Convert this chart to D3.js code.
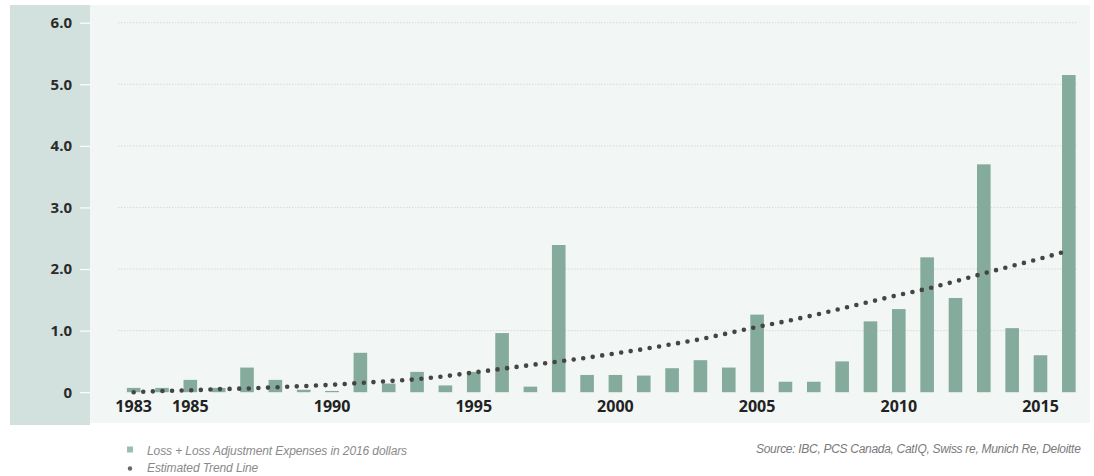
<!DOCTYPE html>
<html>
<head>
<meta charset="utf-8">
<script src="https://cdn.jsdelivr.net/npm/d3@7"></script>
<style>
  html, body { margin: 0; padding: 0; background: #ffffff; overflow: hidden; }
  svg { display: block; }
</style>
</head>
<body>
<svg id="chart" width="1094" height="476"></svg>
<script>
// ---- data ----
const years = [1983,1984,1985,1986,1987,1988,1989,1990,1991,1992,1993,1994,1995,1996,1997,1998,1999,
               2000,2001,2002,2003,2004,2005,2006,2007,2008,2009,2010,2011,2012,2013,2014,2015,2016];
const losses = [0.07,0.07,0.20,0.07,0.40,0.20,0.04,0.02,0.64,0.14,0.33,0.11,0.33,0.96,0.09,2.39,0.28,
                0.28,0.27,0.39,0.52,0.40,1.26,0.17,0.17,0.50,1.15,1.35,2.19,1.53,3.70,1.04,0.60,5.15];
const trend = [0.00,0.02,0.03,0.05,0.06,0.08,0.10,0.12,0.15,0.18,0.21,0.26,0.32,0.38,0.44,0.50,0.56,
               0.63,0.70,0.78,0.86,0.96,1.06,1.15,1.25,1.36,1.47,1.58,1.68,1.80,1.93,2.05,2.17,2.30];
const xTickYears = [1983,1985,1990,1995,2000,2005,2010,2015];
const yTicks = [0,1,2,3,4,5,6];
const yTickLabels = ["0","1.0","2.0","3.0","4.0","5.0","6.0"];
const legendLabels = ["Loss + Loss Adjustment Expenses in 2016 dollars", "Estimated Trend Line"];
const sourceText = "Source: IBC, PCS Canada, CatIQ, Swiss re, Munich Re, Deloitte";

// ---- setup ----
const svg = d3.select("#chart");
const barColor = "#84ab9c";

const x = d3.scaleBand().domain(years).range([119.5, 1083]).paddingInner(0.52).paddingOuter(0.26);
const y = d3.scaleLinear().domain([0, 6]).range([392.2, 22.7]);

// backgrounds
svg.append("rect").attr("x", 90).attr("y", 5).attr("width", 1000).attr("height", 418).attr("fill", "#f2f6f5");
svg.append("rect").attr("x", 10).attr("y", 5).attr("width", 80).attr("height", 420).attr("fill", "#d3e1de");

// gridlines
svg.append("g").selectAll("line").data(yTicks.filter(d => d > 0)).join("line")
  .attr("x1", 118).attr("x2", 1078)
  .attr("y1", d => y(d)).attr("y2", d => y(d))
  .attr("stroke", "#d5dcda").attr("stroke-width", 1).attr("stroke-dasharray", "1.5 1.5");

// y axis
const yAxis = d3.axisLeft(y).tickValues(yTicks).tickSize(10).tickPadding(8)
  .tickFormat((d, i) => yTickLabels[i]);
const gy = svg.append("g").attr("transform", "translate(90,0)").call(yAxis);
gy.select(".domain").remove();
gy.selectAll(".tick line").attr("stroke", "#ffffff").attr("stroke-width", 1.2);
gy.selectAll(".tick text").attr("fill", "#2b2b2b").attr("font-family", "'Open Sans', sans-serif")
  .attr("font-weight", "bold").attr("font-size", "15px");

// bars
svg.append("g").selectAll("rect").data(years).join("rect")
  .attr("x", d => x(d)).attr("width", x.bandwidth())
  .attr("y", (d, i) => y(losses[i]))
  .attr("height", (d, i) => y(0) - y(losses[i]))
  .attr("fill", barColor);

// trend line
const line = d3.line().x((d, i) => x(years[i]) + x.bandwidth() / 2).y(d => y(d));
svg.append("path").datum(trend).attr("d", line)
  .attr("fill", "none").attr("stroke", "#454545").attr("stroke-width", 4.6)
  .attr("stroke-linecap", "round").attr("stroke-dasharray", "0 9.6");

// x axis
const xAxis = d3.axisBottom(x).tickValues(xTickYears).tickSize(0).tickPadding(0);
const gx = svg.append("g").attr("transform", "translate(0,400)").call(xAxis);
gx.select(".domain").remove();
gx.selectAll(".tick text").attr("fill", "#222").attr("font-family", "'Open Sans', sans-serif")
  .attr("font-weight", "bold").attr("font-size", "16px").attr("dy", "0.75em");

// legend
const lg = svg.append("g");
lg.append("rect").attr("x", 127).attr("y", 446.5).attr("width", 6).attr("height", 6).attr("fill", "#9dbdb1");
lg.append("circle").attr("cx", 130).attr("cy", 468.5).attr("r", 2.2).attr("fill", "#666");
lg.selectAll("text").data(legendLabels).join("text")
  .attr("x", 147).attr("y", (d, i) => 455 + i * 17)
  .attr("font-family", "'Liberation Sans', Arial, sans-serif").attr("font-style", "italic")
  .attr("font-size", "12px").attr("fill", "#8a8a8a").attr("letter-spacing", "-0.1px")
  .text(d => d);

// source
svg.append("text").attr("x", 756).attr("y", 452.5)
  .attr("font-family", "'Liberation Sans', Arial, sans-serif").attr("font-style", "italic")
  .attr("font-size", "12px").attr("fill", "#7a7a7a").attr("letter-spacing", "-0.3px")
  .text(sourceText);
</script>
</body>
</html>
